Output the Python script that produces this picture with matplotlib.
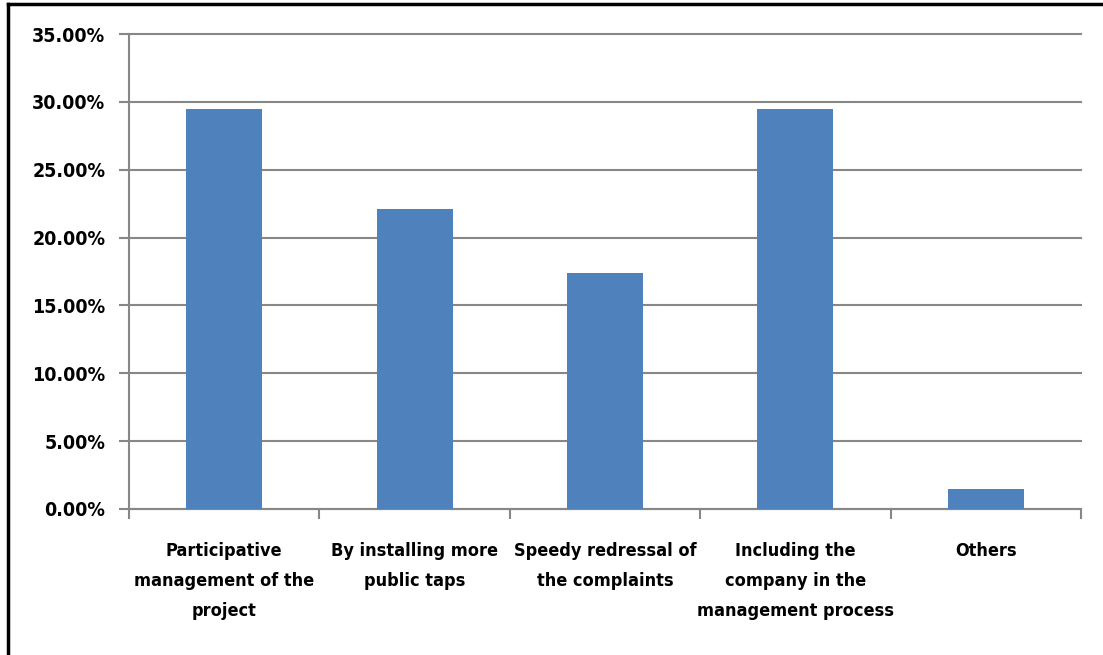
import matplotlib.pyplot as plt
from matplotlib.lines import Line2D
from matplotlib.ticker import FuncFormatter, MultipleLocator

categories = [
    "Participative\nmanagement of the\nproject",
    "By installing more\npublic taps",
    "Speedy redressal of\nthe complaints",
    "Including the\ncompany in the\nmanagement process",
    "Others",
]
shares = [29.5, 22.1, 17.4, 29.5, 1.5]

plt.rcParams['font.family'] = ['DejaVu Sans']
plt.rcParams['font.stretch'] = 'condensed'
plt.rcParams['font.weight'] = 'bold'

fig = plt.figure(figsize=(11.03, 6.55), dpi=100)
ax = fig.add_axes([129 / 1103, 1 - 509 / 655, (1081 - 129) / 1103, (509 - 34) / 655])

grid_col = '#878787'
x = list(range(len(categories)))
ax.bar(x, shares, width=0.4, color='#4F81BD', zorder=3)

ax.set_xlim(-0.5, len(categories) - 0.5)
ax.set_ylim(0, 35)
ax.yaxis.set_major_locator(MultipleLocator(5))
ax.yaxis.set_major_formatter(FuncFormatter(lambda v, p: f"{v:.2f}%"))
ax.grid(axis='y', color=grid_col, linewidth=1.5, zorder=0)
for gl in ax.get_ygridlines():
    gl.set_clip_on(False)

# category labels centred between boundary ticks
ax.set_xticks([i - 0.5 for i in range(len(categories) + 1)])
ax.set_xticklabels([])
ax.set_xticks(x, minor=True)
ax.set_xticklabels(categories, minor=True, fontsize=13, linespacing=1.85)
ax.tick_params(axis='x', which='minor', length=0, pad=24)
ax.tick_params(axis='x', which='major', length=7, width=1.5, color=grid_col)
ax.tick_params(axis='y', length=7, width=1.5, color=grid_col, labelsize=14, pad=10)

for side in ['top', 'right']:
    ax.spines[side].set_visible(False)
for side in ['left', 'bottom']:
    ax.spines[side].set_color(grid_col)
    ax.spines[side].set_linewidth(1.5)

# outer frame: top and left edges
fig.add_artist(Line2D([8 / 1103, 8 / 1103], [0, 1 - 4 / 655], color='black', linewidth=2.5))
fig.add_artist(Line2D([8 / 1103, 1], [1 - 4 / 655, 1 - 4 / 655], color='black', linewidth=2.5))

fig.savefig('out.png', dpi=100)
